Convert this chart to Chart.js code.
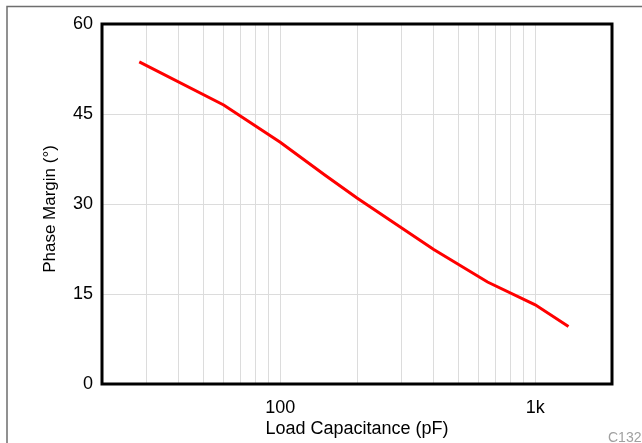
<!DOCTYPE html>
<html>
<head>
<meta charset="utf-8">
<script src="https://cdn.jsdelivr.net/npm/chart.js@4/dist/chart.umd.min.js"></script>
<style>
html,body{margin:0;padding:0;background:#fff;}
#wrap{position:relative;width:642px;height:443px;}
</style>
</head>
<body>
<div id="wrap"><canvas id="c" width="642" height="443"></canvas></div>
<script>
const capacitance = [28, 60, 100, 150, 200, 400, 650, 1000, 1350];
const phaseMargin = [53.7, 46.5, 40.3, 34.8, 31.0, 22.4, 17.0, 13.2, 9.6];
const xGridValues = [20,30,40,50,60,70,80,90,100,200,300,400,500,600,700,800,900,1000,2000];
const xLabels = {100: '100', 1000: '1k'};
const yTicks = [0, 15, 30, 45, 60];
const yTitle = 'Phase Margin (°)';

const FONT = "'Liberation Sans', Arial, sans-serif";

const framePlugin = {
  id: 'frame',
  afterDraw(chart) {
    const ctx = chart.ctx, a = chart.chartArea;
    ctx.save();
    ctx.strokeStyle = '#000';
    ctx.lineWidth = 3;
    ctx.strokeRect(a.left, a.top, a.right - a.left, a.bottom - a.top);
    ctx.strokeStyle = '#6e6e6e';
    ctx.lineWidth = 1.5;
    ctx.beginPath();
    ctx.moveTo(7, 443); ctx.lineTo(7, 6.5); ctx.lineTo(642, 6.5);
    ctx.stroke();
    ctx.fillStyle = '#a0a0a0';
    ctx.font = "14px " + FONT;
    ctx.textAlign = 'left';
    ctx.textBaseline = 'alphabetic';
    ctx.fillText('C132', 608, 442);
    // y axis title
    ctx.fillStyle = '#000';
    ctx.font = "17px " + FONT;
    ctx.translate(50, 209);
    ctx.rotate(-Math.PI / 2);
    ctx.textAlign = 'center';
    ctx.textBaseline = 'middle';
    ctx.fillText(yTitle, 0, 0);
    ctx.restore();
  }
};

new Chart(document.getElementById('c'), {
  type: 'line',
  data: {
    datasets: [{
      data: capacitance.map((c, i) => ({x: c, y: phaseMargin[i]})),
      borderColor: '#ff0000',
      borderWidth: 3,
      pointRadius: 0,
      tension: 0,
      fill: false
    }]
  },
  options: {
    responsive: false,
    animation: false,
    events: [],
    layout: {padding: {left: 34, right: 30, top: 24, bottom: 0}},
    plugins: {legend: {display: false}, tooltip: {enabled: false}},
    scales: {
      x: {
        type: 'logarithmic',
        min: 20, max: 2000,
        afterBuildTicks: s => { s.ticks = xGridValues.map(v => ({value: v})); },
        afterFit: s => { s.height = 59; },
        grid: {color: '#dcdcdc', lineWidth: 1, drawTicks: false},
        border: {display: false},
        ticks: {
          autoSkip: false, maxRotation: 0, padding: 13,
          color: '#000', font: {family: FONT, size: 18},
          callback: v => xLabels[v] || ''
        },
        title: {display: true, text: 'Load Capacitance (pF)', color: '#000',
                font: {family: FONT, size: 18}, padding: {top: 0, bottom: 3}}
      },
      y: {
        min: 0, max: 60,
        afterBuildTicks: s => { s.ticks = yTicks.map(v => ({value: v})); },
        afterFit: s => { s.width = 68; },
        grid: {color: '#dcdcdc', lineWidth: 1, drawTicks: false},
        border: {display: false},
        ticks: {padding: 9, color: '#000', font: {family: FONT, size: 18}},
        title: {display: false}
      }
    }
  },
  plugins: [framePlugin]
});
</script>
</body>
</html>
